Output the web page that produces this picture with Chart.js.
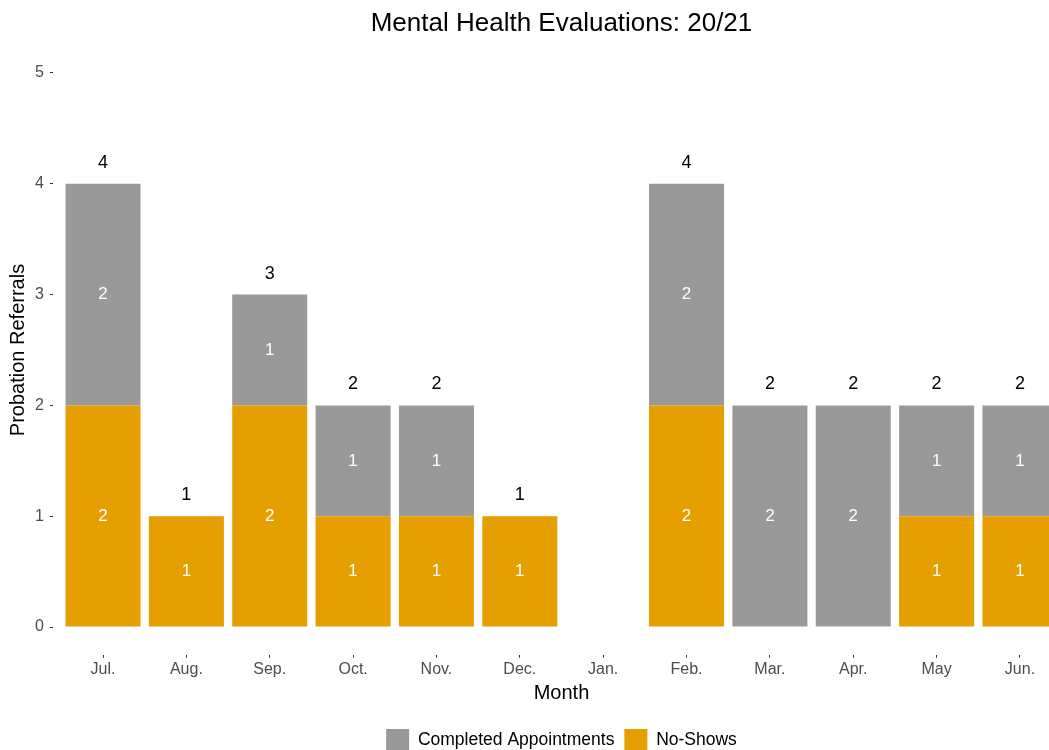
<!DOCTYPE html>
<html>
<head>
<meta charset="utf-8">
<title>Mental Health Evaluations: 20/21</title>
<script src="https://cdn.jsdelivr.net/npm/chart.js@4"></script>
<style>
  html, body { margin: 0; padding: 0; background: #fff; overflow: hidden; }
  #wrap { width: 1049px; height: 750px; overflow: hidden; }
</style>
</head>
<body>
<div id="wrap"><canvas id="chart" width="1072" height="762"></canvas></div>
<script>
// data
const months = ['Jul.', 'Aug.', 'Sep.', 'Oct.', 'Nov.', 'Dec.', 'Jan.', 'Feb.', 'Mar.', 'Apr.', 'May', 'Jun.'];
const noShows = [2, 1, 2, 1, 1, 1, 0, 2, 0, 0, 1, 1];
const completed = [2, 0, 1, 1, 1, 0, 0, 2, 2, 2, 1, 1];
const yTicks = [0, 1, 2, 3, 4, 5];

Chart.defaults.font.family = '"Liberation Sans", Arial, sans-serif';

// white counts inside segments, black totals above stacks
const barLabels = {
    id: 'barLabels',
    afterDatasetsDraw(chart) {
        const ctx = chart.ctx;
        ctx.save();
        ctx.textAlign = 'center';
        ctx.textBaseline = 'middle';
        ctx.font = '17px "Liberation Sans", Arial, sans-serif';
        ctx.fillStyle = '#ffffff';
        chart.data.datasets.forEach((ds, di) => {
            chart.getDatasetMeta(di).data.forEach((bar, i) => {
                if (ds.data[i] > 0) ctx.fillText(ds.data[i], bar.x, (bar.y + bar.base) / 2);
            });
        });
        ctx.font = '18px "Liberation Sans", Arial, sans-serif';
        ctx.fillStyle = '#000000';
        const bars = chart.getDatasetMeta(1).data;
        months.forEach((m, i) => {
            const total = noShows[i] + completed[i];
            if (total > 0) ctx.fillText(total, bars[i].x, chart.scales.y.getPixelForValue(total) - 21);
        });
        ctx.restore();
    }
};

const ctx = document.getElementById('chart').getContext('2d');
const chart = new Chart(ctx, {
    type: 'bar',
    data: {
        labels: months,
        datasets: [{
            label: 'No-Shows',
            data: noShows,
            backgroundColor: '#E69F00',
            borderWidth: 0
        }, {
            label: 'Completed Appointments',
            data: completed,
            backgroundColor: '#999999',
            borderWidth: 0
        }]
    },
    options: {
        responsive: false,
        animation: false,
        layout: { padding: { left: 0, right: 2, top: 0, bottom: 0 } },
        datasets: { bar: { categoryPercentage: 1, barPercentage: 0.9 } },
        scales: {
            x: {
                stacked: true,
                offset: false,
                afterBuildTicks: s => { s._startValue = -0.6; s._valueRange = months.length - 1 + 1.2; },
                grid: { offset: false, drawOnChartArea: false, drawTicks: true, tickLength: 3, color: '#333333' },
                border: { display: false },
                ticks: { color: '#4D4D4D', font: { size: 16 }, padding: 2, maxRotation: 0, autoSkip: false },
                title: { display: true, text: 'Month', color: '#000000', font: { size: 20 }, padding: { top: 0, bottom: 14 } }
            },
            y: {
                stacked: true,
                min: -0.25,
                max: 5.25,
                afterBuildTicks: s => { s.ticks = yTicks.map(v => ({ value: v })); },
                afterFit: s => { s.width = 53; },
                grid: { drawOnChartArea: false, drawTicks: true, tickLength: 3, color: '#333333' },
                border: { display: false },
                ticks: { color: '#4D4D4D', font: { size: 16 }, padding: 6 },
                title: { display: true, text: 'Probation Referrals', color: '#000000', font: { size: 20 }, padding: { top: 6, bottom: 0 } }
            }
        },
        plugins: {
            title: {
                display: true,
                text: 'Mental Health Evaluations: 20/21',
                color: '#000000',
                fullSize: false,
                font: { size: 26, weight: 'normal' },
                padding: { top: 8, bottom: 6 }
            },
            legend: {
                position: 'bottom',
                fullSize: false,
                labels: {
                    boxWidth: 23,
                    boxHeight: 23,
                    color: '#000000',
                    font: { size: 17.5 },
                    padding: 10,
                    sort: (a, b) => b.datasetIndex - a.datasetIndex
                }
            },
            tooltip: { enabled: false }
        }
    },
    plugins: [barLabels]
});
</script>
</body>
</html>
